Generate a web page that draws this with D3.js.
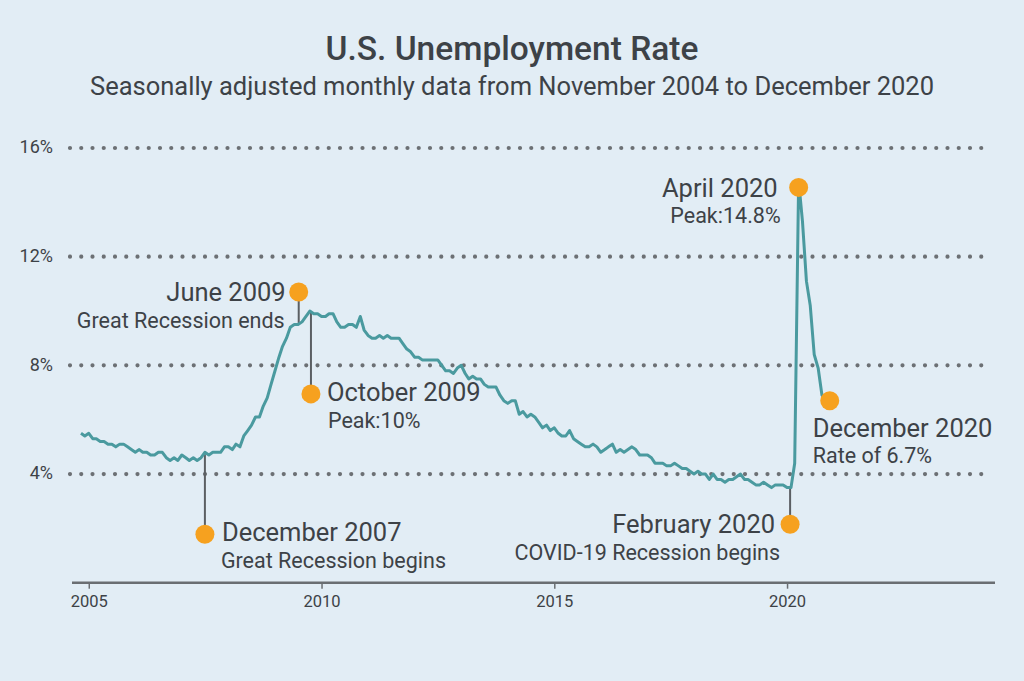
<!DOCTYPE html>
<html><head><meta charset="utf-8">
<script src="https://cdn.jsdelivr.net/npm/d3@7"></script>
<style>
html,body{margin:0;padding:0;background:#e2edf5;}
svg{display:block;}
text{font-family:Roboto,"Noto Sans",sans-serif;fill:#3d4247;}
</style></head><body>
<svg id="chart" width="1024" height="681"></svg>
<script>
// ---------- DATA ----------
const startMonth = "2004-11-01";
const unemploymentRate = [
  // 2004 Nov-Dec
  5.5, 5.4,
  // 2005
  5.5, 5.3, 5.3, 5.2, 5.2, 5.1, 5.1, 5.0, 5.1, 5.1, 5.0, 4.9,
  // 2006
  4.8, 4.9, 4.8, 4.8, 4.7, 4.7, 4.8, 4.8, 4.6, 4.5, 4.6, 4.5,
  // 2007
  4.7, 4.6, 4.5, 4.6, 4.5, 4.6, 4.8, 4.7, 4.8, 4.8, 4.8, 5.0,
  // 2008
  5.0, 4.9, 5.1, 5.0, 5.4, 5.6, 5.8, 6.1, 6.1, 6.5, 6.8, 7.3,
  // 2009
  7.8, 8.3, 8.7, 9.0, 9.4, 9.5, 9.5, 9.6, 9.8, 10.0, 9.9, 9.9,
  // 2010
  9.8, 9.8, 9.9, 9.9, 9.6, 9.4, 9.4, 9.5, 9.5, 9.4, 9.8, 9.3,
  // 2011
  9.1, 9.0, 9.0, 9.1, 9.0, 9.1, 9.0, 9.0, 9.0, 8.8, 8.6, 8.5,
  // 2012
  8.3, 8.3, 8.2, 8.2, 8.2, 8.2, 8.2, 8.0, 7.8, 7.8, 7.7, 7.9,
  // 2013
  8.0, 7.7, 7.5, 7.6, 7.5, 7.5, 7.3, 7.2, 7.2, 7.2, 6.9, 6.7,
  // 2014
  6.6, 6.7, 6.7, 6.2, 6.3, 6.1, 6.2, 6.1, 5.9, 5.7, 5.8, 5.6,
  // 2015
  5.7, 5.5, 5.4, 5.4, 5.6, 5.3, 5.2, 5.1, 5.0, 5.0, 5.1, 5.0,
  // 2016
  4.8, 4.9, 5.0, 5.1, 4.8, 4.9, 4.8, 4.9, 5.0, 4.9, 4.7, 4.7,
  // 2017
  4.7, 4.6, 4.4, 4.4, 4.4, 4.3, 4.3, 4.4, 4.3, 4.2, 4.2, 4.1,
  // 2018
  4.0, 4.1, 4.0, 4.0, 3.8, 4.0, 3.8, 3.8, 3.7, 3.8, 3.8, 3.9,
  // 2019
  4.0, 3.8, 3.8, 3.7, 3.6, 3.6, 3.7, 3.6, 3.5, 3.6, 3.6, 3.6,
  // 2020
  3.5, 3.5, 4.4, 14.8, 13.3, 11.1, 10.2, 8.4, 7.9, 6.9, 6.7, 6.7
];
const yTickValues = [4, 8, 12, 16];
const yTickLabels = ["4%", "8%", "12%", "16%"];
const xTickYears = [2005, 2010, 2015, 2020];
const xTickLabels = ["2005", "2010", "2015", "2020"];

const annotationDates  = ["2007-07-01", "2009-07-06", "2009-10-10", "2020-01-25", "2020-04-01", "2020-12-01"];
const annotationMarker = [1.78, 10.7, 6.95, 2.15, 14.55, 6.7];
const annotationTitles = ["December 2007", "June 2009", "October 2009", "February 2020", "April 2020", "December 2020"];
const annotationNotes  = ["Great Recession begins", "Great Recession ends", "Peak:10%", "COVID-19 Recession begins", "Peak:14.8%", "Rate of 6.7%"];

const titleText = "U.S. Unemployment Rate";
const subtitleText = "Seasonally adjusted monthly data from November 2004 to December 2020";

// ---------- LAYOUT ----------
const svg = d3.select("#chart");
const parse = d3.timeParse("%Y-%m-%d");
const start = parse(startMonth);
const series = unemploymentRate.map((v, i) => ({ date: d3.timeMonth.offset(start, i), value: v }));

const x = d3.scaleTime()
  .domain([parse("2004-11-01"), parse("2020-02-01")])
  .range([81, 791]);
const y = d3.scaleLinear().domain([0, 16]).range([582.7, 148]);

svg.append("rect").attr("width", 1024).attr("height", 681).attr("fill", "#e2edf5");

// title
svg.append("text").attr("x", 512).attr("y", 60).attr("text-anchor", "middle")
  .attr("font-size", 33.5).attr("font-weight", 500).text(titleText);
svg.append("text").attr("x", 512).attr("y", 95).attr("text-anchor", "middle")
  .attr("font-size", 25.5).attr("font-weight", 400).text(subtitleText);

// gridlines
const gridG = svg.append("g");
gridG.selectAll("line").data(yTickValues).join("line")
  .attr("x1", 70).attr("x2", 990)
  .attr("y1", d => y(d)).attr("y2", d => y(d))
  .attr("stroke", "#6c7074").attr("stroke-width", 4.2)
  .attr("stroke-linecap", "round").attr("stroke-dasharray", "0,11.25");

// y labels
svg.append("g").selectAll("text").data(yTickValues).join("text")
  .attr("x", 53).attr("y", d => y(d)).attr("dy", "0.3em")
  .attr("text-anchor", "end").attr("font-size", 18)
  .text((d, i) => yTickLabels[i]);

// x axis
const xAxis = d3.axisBottom(x)
  .tickValues(xTickYears.map(yr => new Date(yr, 0, 1)))
  .tickFormat((d, i) => xTickLabels[i])
  .tickSize(6).tickSizeOuter(0);
const axG = svg.append("g").attr("transform", `translate(0,${y(0)})`).call(xAxis);
axG.select(".domain").attr("d", "M72,0H995").attr("stroke", "#6a6e72").attr("stroke-width", 2.5);
axG.selectAll(".tick line").attr("stroke", "#6a6e72").attr("stroke-width", 1.5);
axG.selectAll(".tick text").attr("font-size", 16.5).attr("font-family", "Roboto, sans-serif")
  .attr("fill", "#3d4247").attr("dy", "0.95em");

// connectors
const ann = annotationDates.map((d, i) => {
  const dt = parse(d);
  const t = x(dt);
  let lv = null;
  for (let k = 0; k < series.length - 1; k++) {
    const a = x(series[k].date), b = x(series[k + 1].date);
    if (t >= a && t <= b) { const f = (t - a) / (b - a); lv = series[k].value + f * (series[k + 1].value - series[k].value); break; }
  }
  if (lv === null) lv = series[series.length - 1].value;
  return { date: dt, lineValue: lv, marker: annotationMarker[i], title: annotationTitles[i], note: annotationNotes[i] };
});

svg.append("g").selectAll("line").data(ann).join("line")
  .attr("x1", d => x(d.date)).attr("x2", d => x(d.date))
  .attr("y1", d => y(d.lineValue)).attr("y2", d => y(d.marker))
  .attr("stroke", "#5b5f63").attr("stroke-width", 2);

// series line
svg.append("path").datum(series)
  .attr("fill", "none").attr("stroke", "#4a9a9f").attr("stroke-width", 3)
  .attr("stroke-linejoin", "round")
  .attr("d", d3.line().x(d => x(d.date)).y(d => y(d.value)));

// markers
svg.append("g").selectAll("circle").data(ann).join("circle")
  .attr("cx", d => x(d.date)).attr("cy", d => y(d.marker)).attr("r", 9.5)
  .attr("fill", "#f6a11f");

// labels: [anchor, titleDx, titleDy, noteDx, noteDy]
const labelLayout = [
  ["start", 17, 7, 16, 33.5],
  ["end", -13, 9.5, -14, 36],
  ["start", 16, 7.5, 17, 34],
  ["end", -15, 8.5, -10, 35.5],
  ["end", -21, 9.5, -18, 36],
  ["start", -17, 36, -17, 62]
];
const lg = svg.append("g");
ann.forEach((d, i) => {
  const [anc, tdx, tdy, ndx, ndy] = labelLayout[i];
  const cx = x(d.date), cy = y(d.marker);
  lg.append("text").attr("x", cx + tdx).attr("y", cy + tdy).attr("text-anchor", anc)
    .attr("font-size", 25.5).attr("font-weight", 400).text(d.title);
  lg.append("text").attr("x", cx + ndx).attr("y", cy + ndy).attr("text-anchor", anc)
    .attr("font-size", 21.5).text(d.note);
});
</script>
</body></html>
